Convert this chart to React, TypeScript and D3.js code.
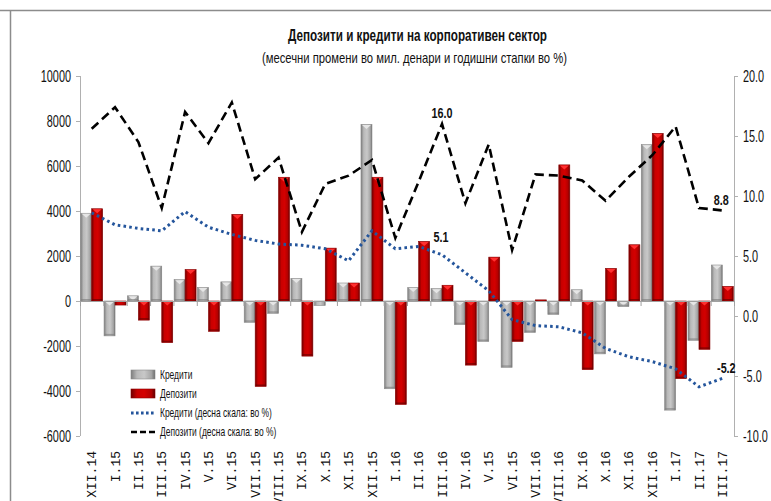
import React from 'react';
import * as d3 from 'd3';

const categories = [
  'XII.14', 'I.15', 'II.15', 'III.15', 'IV.15', 'V.15', 'VI.15', 'VII.15', 'VIII.15', 'IX.15',
  'X.15', 'XI.15', 'XII.15', 'I.16', 'II.16', 'III.16', 'IV.16', 'V.15', 'VI.15', 'VII.16',
  'VIII.16', 'IX.16', 'X.16', 'XI.16', 'XII.16', 'I.17', 'II.17', 'III.17',
];

// monthly changes, mil. denars
const credits = [
  3900, -1550, 230, 1550, 950, 600, 850, -950, -550, 1000,
  -200, 800, 7850, -3900, 600, 550, -1050, -1800, -2950, -1400,
  -600, 500, -2350, -250, 6950, -4850, -1750, 1600,
];
const deposits = [
  4100, -180, -850, -1850, 1400, -1350, 3850, -3800, 5500, -2450,
  2350, 800, 5500, -4600, 2650, 700, -2850, 1950, -1800, 50,
  6050, -3050, 1450, 2500, 7450, -3450, -2150, 650,
];

// annual growth rates, % (right scale)
const creditsRate = [
  8.6, 7.6, 7.3, 7.1, 8.7, 7.4, 6.8, 6.3, 6.0, 5.9,
  5.6, 4.6, 7.1, 5.6, 5.8, 5.1, 3.6, 2.1, -0.3, -0.8,
  -0.9, -1.4, -2.7, -3.4, -3.8, -4.4, -5.9, -5.2,
];
const depositsRate = [
  15.6, 17.4, 14.5, 9.0, 17.0, 14.4, 17.8, 11.4, 13.2, 7.0,
  11.0, 11.7, 13.0, 6.5, 11.2, 16.0, 9.4, 14.3, 5.5, 11.8,
  11.7, 11.3, 9.6, 11.6, 13.4, 15.8, 9.0, 8.8,
];

const leftTicks = [-6000, -4000, -2000, 0, 2000, 4000, 6000, 8000, 10000];
const rightTicks = [-10, -5, 0, 5, 10, 15, 20];

const W = 771;
const H = 501;
const left = 80;
const right = 734;
const top = 76;
const bottom = 436;

const sans = "'Liberation Sans', Arial, sans-serif";
const SX = 0.64; // horizontal squeeze to imitate the narrow font of the original

function T({ x, y, sx = SX, anchor = 'start', size = 17, bold = false, children }: {
  x: number; y: number; sx?: number; anchor?: string; size?: number; bold?: boolean; children: React.ReactNode;
}) {
  return (
    <text transform={`translate(${x},${y}) scale(${sx},1)`} textAnchor={anchor} fontFamily={sans}
      fontSize={size} fontWeight={bold ? 'bold' : 'normal'} fill="#111">
      {children}
    </text>
  );
}

export default function App() {
  const keys = categories.map((_, i) => String(i));
  const x0 = d3.scaleBand<string>().domain(keys).range([left, right]).paddingInner(0.06).paddingOuter(0.03);
  const x1 = d3.scaleBand<string>().domain(['c', 'd']).range([0, x0.bandwidth()]);
  const yL = d3.scaleLinear().domain([-6000, 10000]).range([bottom, top]);
  const yR = d3.scaleLinear().domain([-10, 20]).range([bottom, top]);
  const step = x0.step();
  const catCenter = (i: number) => left + step * (i + 0.5);

  const line = d3.line<number>().x((_, i) => catCenter(i)).y((v) => yR(v));

  const bars: { key: string; series: 'c' | 'd'; v: number; k: string }[] = [];
  keys.forEach((k, i) => {
    bars.push({ key: k + 'c', series: 'c', v: credits[i], k });
    bars.push({ key: k + 'd', series: 'd', v: deposits[i], k });
  });

  return (
    <svg width={W} height={H} style={{ position: 'absolute', left: 0, top: 0, background: '#fff' }}>
      <defs>
        <linearGradient id="gGray" x1="0" x2="1" y1="0" y2="0">
          <stop offset="0" stopColor="#7d7d7d" />
          <stop offset="0.25" stopColor="#b9b9b9" />
          <stop offset="0.55" stopColor="#c8c8c8" />
          <stop offset="0.85" stopColor="#a5a5a5" />
          <stop offset="1" stopColor="#6e6e6e" />
        </linearGradient>
        <linearGradient id="gRed" x1="0" x2="1" y1="0" y2="0">
          <stop offset="0" stopColor="#6e0000" />
          <stop offset="0.25" stopColor="#c80000" />
          <stop offset="0.55" stopColor="#d40000" />
          <stop offset="0.85" stopColor="#b00000" />
          <stop offset="1" stopColor="#5e0000" />
        </linearGradient>
      </defs>

      {/* frame */}
      <line x1={0} x2={W} y1={10.5} y2={10.5} stroke="#8c8c8c" strokeWidth={1.5} />
      <line x1={10.5} x2={10.5} y1={10} y2={H} stroke="#8c8c8c" strokeWidth={1.5} />

      {/* title */}
      <text x={288} y={41} textLength={259} lengthAdjust="spacingAndGlyphs" fontFamily={sans}
        fontWeight="bold" fontSize={16} fill="#111">
        Депозити и кредити на корпоративен сектор
      </text>
      <text x={262} y={63} textLength={305} lengthAdjust="spacingAndGlyphs" fontFamily={sans}
        fontSize={15} fill="#111">
        (месечни промени во мил. денари и годишни стапки во %)
      </text>

      {/* axes */}
      <line x1={left + 0.5} x2={left + 0.5} y1={top} y2={bottom} stroke="#b0b0b0" />
      <line x1={right + 0.5} x2={right + 0.5} y1={top} y2={bottom} stroke="#b0b0b0" />
      {leftTicks.map((t) => (
        <g key={'l' + t}>
          <line x1={left - 4} x2={left} y1={yL(t) + 0.5} y2={yL(t) + 0.5} stroke="#b0b0b0" />
          <T x={71} y={yL(t) + 6} anchor="end">{t}</T>
        </g>
      ))}
      {rightTicks.map((t) => (
        <g key={'r' + t}>
          <line x1={right} x2={right + 4} y1={yR(t) + 0.5} y2={yR(t) + 0.5} stroke="#b0b0b0" />
          <T x={743} y={yR(t) + 6}>{t.toFixed(1)}</T>
        </g>
      ))}

      {/* bars */}
      {bars.map((b) => {
        const bx = (x0(b.k) as number) + (x1(b.series) as number);
        const bw = x1.bandwidth();
        const y0 = yL(0);
        const yv = yL(b.v);
        const yt = Math.min(y0, yv);
        const h = Math.abs(yv - y0);
        const light = b.series === 'c' ? '#e6e6e6' : '#ff3030';
        const dark = b.series === 'c' ? '#7a7a7a' : '#5a0000';
        return (
          <g key={b.key}>
            <rect x={bx} y={yt} width={bw} height={h} fill={b.series === 'c' ? 'url(#gGray)' : 'url(#gRed)'}
              stroke={b.series === 'c' ? '#8a8a8a' : '#8a0000'} strokeWidth={0.6} />
            {h > 5 && (
              <>
                <polygon points={`${bx + 1},${yt + 0.5} ${bx + bw - 1},${yt + 0.5} ${bx + bw / 2},${yt + 4.5}`} fill={light} />
                <rect x={bx + 0.5} y={yt + h - 2} width={bw - 1} height={1.5} fill={dark} opacity={0.6} />
              </>
            )}
          </g>
        );
      })}

      {/* zero line and category ticks */}
      <line x1={left} x2={right} y1={yL(0) + 0.5} y2={yL(0) + 0.5} stroke="#a0a0a0" />
      {d3.range(categories.length + 1).map((i) => (
        <line key={'t' + i} x1={left + step * i + 0.5} x2={left + step * i + 0.5} y1={yL(0)} y2={yL(0) + 5} stroke="#a0a0a0" />
      ))}

      {/* lines */}
      <path d={line(creditsRate) as string} fill="none" stroke="#24559c" strokeWidth={3} strokeDasharray="2.6 3.2" />
      <path d={line(depositsRate) as string} fill="none" stroke="#000" strokeWidth={2.6} strokeDasharray="9 5" />

      {/* data labels */}
      <T x={catCenter(15)} y={118} anchor="middle" bold size={15} sx={0.72}>{depositsRate[15].toFixed(1)}</T>
      <T x={catCenter(15) - 1} y={242} anchor="middle" bold size={15} sx={0.72}>{creditsRate[15].toFixed(1)}</T>
      <T x={catCenter(27) - 1} y={205} anchor="middle" bold size={15} sx={0.72}>{depositsRate[27].toFixed(1)}</T>
      <T x={catCenter(27) + 4} y={373} anchor="middle" bold size={15} sx={0.72}>{creditsRate[27].toFixed(1)}</T>

      {/* legend */}
      <rect x={131} y={370} width={24} height={9} fill="url(#gGray)" stroke="#8a8a8a" strokeWidth={0.6} />
      <T x={160} y={379} size={13} sx={0.65}>Кредити</T>
      <rect x={131} y={389} width={24} height={9} fill="url(#gRed)" stroke="#8a0000" strokeWidth={0.6} />
      <T x={160} y={398} size={13} sx={0.65}>Депозити</T>
      <line x1={131} x2={155} y1={413} y2={413} stroke="#24559c" strokeWidth={3} strokeDasharray="2.6 2.4" />
      <T x={160} y={417} size={13} sx={0.65}>Кредити (десна скала: во %)</T>
      <line x1={131} x2={155} y1={432} y2={432} stroke="#000" strokeWidth={2.6} strokeDasharray="6 3" />
      <T x={160} y={436} size={13} sx={0.65}>Депозити (десна скала: во %)</T>

      {/* x labels */}
      {categories.map((c, i) => (
        <text key={'x' + i} transform={`translate(${catCenter(i)},451) rotate(-90)`} dy="0.35em" textAnchor="end"
          fontFamily="'Liberation Mono', 'DejaVu Sans Mono', monospace" fontSize={13} fill="#111">
          {c}
        </text>
      ))}
    </svg>
  );
}
